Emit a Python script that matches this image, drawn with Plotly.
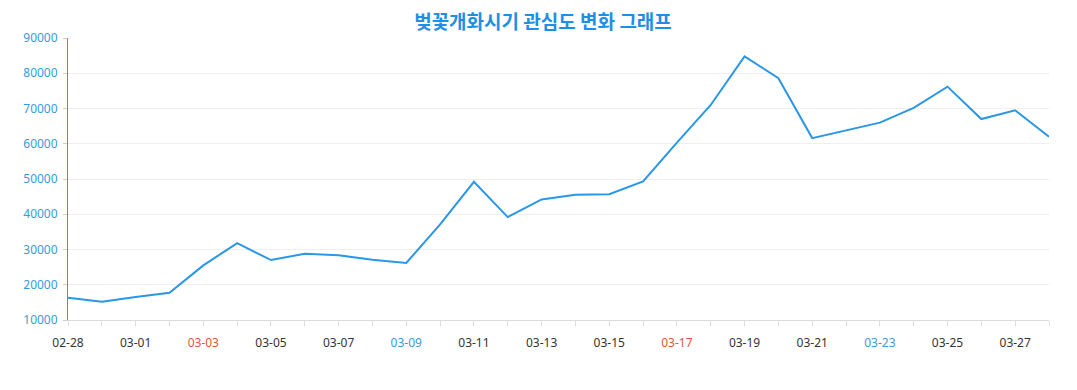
import plotly.graph_objects as go

dates = ["02-28", "02-29", "03-01", "03-02", "03-03", "03-04", "03-05", "03-06", "03-07", "03-08",
         "03-09", "03-10", "03-11", "03-12", "03-13", "03-14", "03-15", "03-16", "03-17", "03-18",
         "03-19", "03-20", "03-21", "03-22", "03-23", "03-24", "03-25", "03-26", "03-27", "03-28"]
interest = [16300, 15200, 16500, 17700, 25500, 31800, 27000, 28800, 28400, 27100,
            26200, 37100, 49200, 39200, 44200, 45500, 45700, 49300, 60300, 71000,
            84800, 78600, 61600, 63800, 66000, 70200, 76200, 67000, 69500, 62000]
saturdays = ["03-02", "03-09", "03-16", "03-23"]
sundays = ["03-03", "03-10", "03-17", "03-24"]
y_ticks = [10000, 20000, 30000, 40000, 50000, 60000, 70000, 80000, 90000]
title = "벚꽃개화시기 관심도 변화 그래프"

ticktext = []
for i, d in enumerate(dates):
    if i % 2 == 1:
        ticktext.append("")
    elif d in sundays:
        ticktext.append(f"<span style='color:#e0553d'>{d}</span>")
    elif d in saturdays:
        ticktext.append(f"<span style='color:#3a9ad9'>{d}</span>")
    else:
        ticktext.append(d)

fig = go.Figure()
fig.add_trace(go.Scatter(
    x=list(range(len(dates))), y=interest, mode="lines",
    line=dict(color="#2a97e6", width=2),
    hoverinfo="y",
))

fig.update_layout(
    width=1077, height=390,
    margin=dict(l=60, r=36, t=30, b=78),
    paper_bgcolor="white", plot_bgcolor="white",
    showlegend=False,
    title=dict(text=f"<b>{title}</b>", x=535 / 1077, xanchor="center",
               y=1 - 14 / 390, yanchor="middle", yref="container",
               font=dict(family="Noto Sans CJK KR", size=19, color="#1e8fe6")),
    font=dict(family="Noto Sans, Open Sans, sans-serif"),
)
fig.update_xaxes(
    range=[0, len(dates) - 1], automargin=False,
    tickmode="array", tickvals=list(range(len(dates))), ticktext=ticktext,
    showgrid=False, showline=True, linecolor="#dcdcdc", linewidth=1,
    ticks="outside", ticklen=5, tickcolor="#dcdcdc", ticklabelstandoff=7,
    tickfont=dict(size=12, color="#333333"),
    zeroline=False,
)
fig.update_yaxes(
    range=[10000, 90000], automargin=False,
    tickmode="array", tickvals=y_ticks, ticktext=[str(v) for v in y_ticks],
    showgrid=True, gridcolor="#efefef", gridwidth=1,
    showline=True, linecolor="#3a9ad9", linewidth=1,
    ticks="outside", ticklen=4, tickcolor="#cccccc", ticklabelstandoff=3,
    tickfont=dict(size=12, color="#3a9ad9"),
    zeroline=False,
)

fig.write_html("out.html")
